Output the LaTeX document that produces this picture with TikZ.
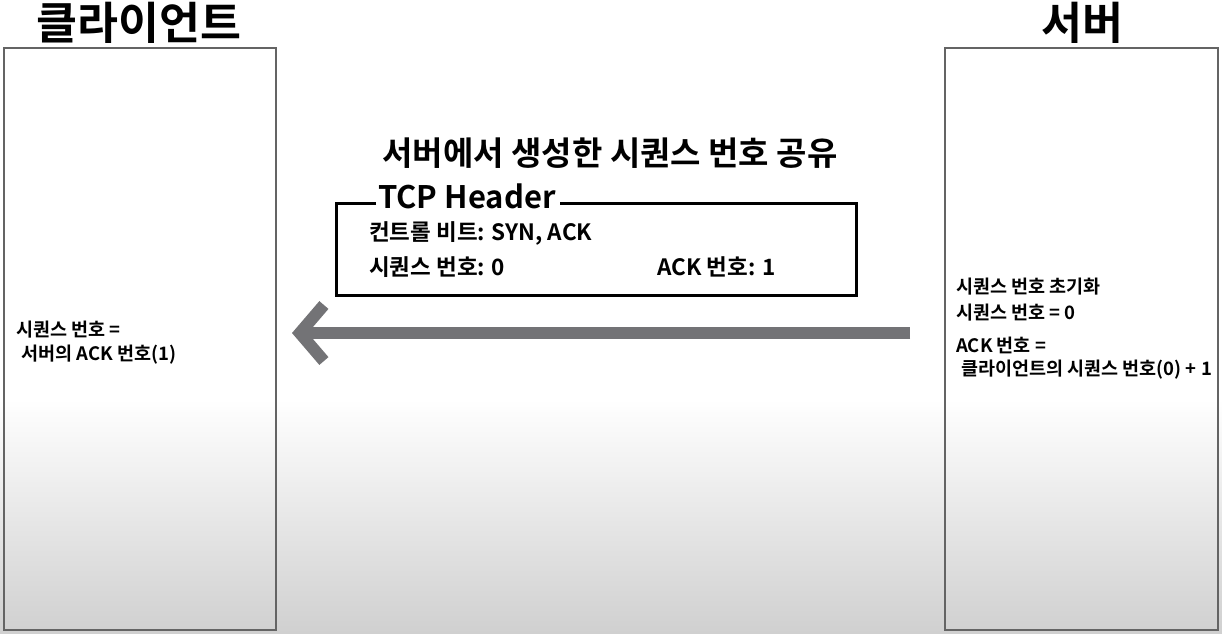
\documentclass[tikz,border=0pt]{standalone}
\usepackage{fontspec}
\setmainfont{Noto Sans CJK KR}[BoldFont={Noto Sans CJK KR Bold}]
\usetikzlibrary{arrows.meta}
\definecolor{boxgray}{RGB}{100,100,100}
\definecolor{arrgray}{RGB}{115,115,118}
\definecolor{bgbottom}{RGB}{208,208,208}
\tikzset{
  lane/.style={draw=boxgray, line width=1.3pt},
  title/.style={font=\fontsize{44.5}{44.5}\selectfont\bfseries, inner sep=0pt},
  heading/.style={font=\fontsize{33}{33}\selectfont\bfseries, inner sep=0pt},
  body/.style={font=\fontsize{22.5}{22.5}\selectfont\bfseries, inner sep=0pt, anchor=west},
  small/.style={font=\fontsize{18.5}{18.5}\selectfont\bfseries, inner sep=0pt, anchor=west},
  hdr/.style={draw=black, line width=3pt},
  bigarrow/.style={draw=arrgray, line width=12pt, -{Straight Barb[length=24pt, width=56pt, line width=12pt]}}
}
\begin{document}
\begin{tikzpicture}[x=1pt, y=-1pt]
\useasboundingbox (0,0) rectangle (1222,633);
\fill[white] (0,0) rectangle (1222,400);
\shade[top color=white, bottom color=bgbottom] (0,399) rectangle (1222,633);
% lanes
\draw[lane] (4,48) rectangle (276,630);
\draw[lane] (945,48) rectangle (1218,630);
\node[title] (client) at (139,23) {클라이언트};
\node[title] (server) at (1082,23) {서버};
% heading
\node[heading] (head) at (610,153) {서버에서 생성한 시퀀스 번호 공유};
% TCP header box
\coordinate (h1) at (376,203);
\coordinate (h2) at (560,203);
\draw[hdr] (h1) -- (336,203) -- (336,295) -- (856,295) -- (856,203) -- (h2);
\node[font=\fontsize{31}{31}\selectfont\bfseries, inner sep=0pt, anchor=west] (tcp) at (378,196) {TCP Header};
\node[body] (ctl) at (369,233) {컨트롤 비트: SYN, ACK};
\node[body] (seq) at (369,267) {시퀀스 번호: 0};
\node[body] (ack) at (657,267) {ACK 번호: 1};
% arrow
\coordinate (astart) at (910,333);
\coordinate (aend) at (292,333);
\draw[bigarrow] (astart) -- (aend);
% client text
\node[small] (c1) at (16,330) {시퀀스 번호 =};
\node[small] (c2) at (21,355) {서버의 ACK 번호(1)};
% server text
\node[small] (s1) at (956,287) {시퀀스 번호 초기화};
\node[small] (s2) at (956,313) {시퀀스 번호 = 0};
\node[small] (s3) at (956,345) {ACK 번호 =};
\node[small] (s4) at (961,370) {클라이언트의 시퀀스 번호(0) + 1};
\end{tikzpicture}
\end{document}
